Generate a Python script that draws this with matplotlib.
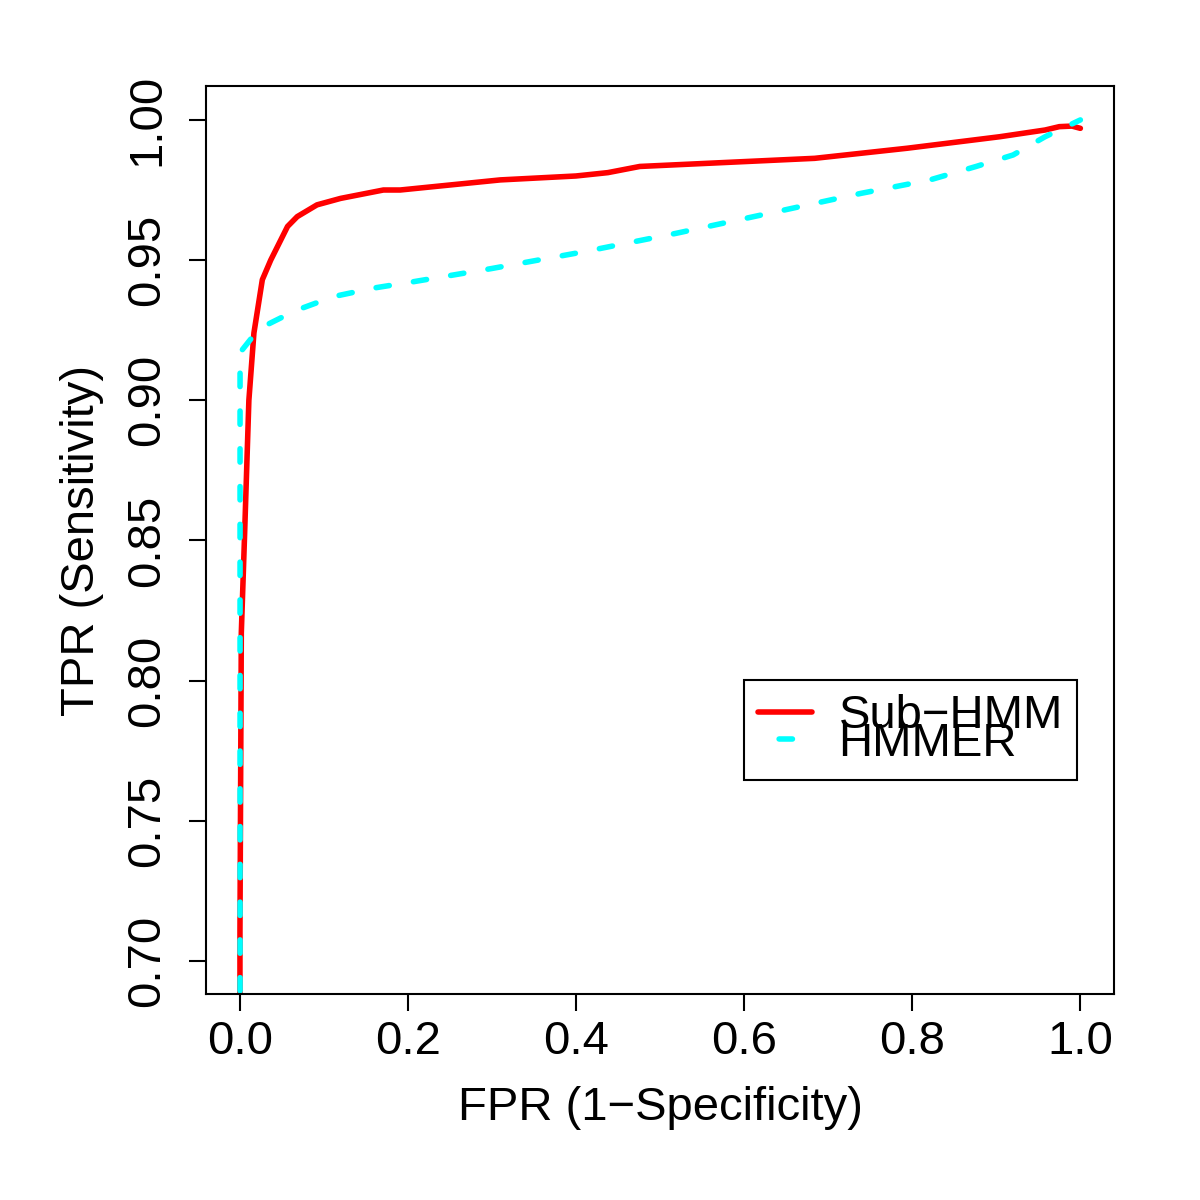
import matplotlib
matplotlib.use("Agg")
import matplotlib.pyplot as plt

# ROC points
sub_fpr = [0.0, 0.0004, 0.002, 0.006, 0.011, 0.017, 0.027, 0.037, 0.057, 0.0685, 0.092,
           0.12, 0.171, 0.191, 0.31, 0.40, 0.438, 0.476, 0.684, 0.794, 0.904, 0.958,
           0.975, 0.99, 1.0]
sub_tpr = [0.0, 0.711, 0.817, 0.853, 0.900, 0.924, 0.943, 0.950, 0.962, 0.9655, 0.9697,
           0.972, 0.975, 0.9750, 0.9786, 0.9800, 0.9812, 0.9834, 0.9863, 0.9899, 0.9940,
           0.9964, 0.9976, 0.9978, 0.9970]

hmm_fpr = [0.0, 0.0005, 0.0005, 0.019, 0.033, 0.0665, 0.112, 0.159, 0.207, 0.30, 0.41,
           0.52, 0.63, 0.739, 0.821, 0.876, 0.920, 0.958, 1.0]
hmm_tpr = [0.0, 0.697, 0.917, 0.924, 0.927, 0.932, 0.937, 0.940, 0.9423, 0.947, 0.953,
           0.9596, 0.9667, 0.9738, 0.9786, 0.9834, 0.9875, 0.9940, 1.0]

plt.rcParams['font.family'] = ['Liberation Sans', 'DejaVu Sans']
plt.rcParams['font.size'] = 34
plt.rcParams['axes.linewidth'] = 1.5

fig = plt.figure(figsize=(12, 12), dpi=100)
ax = fig.add_axes([206/1200, 206/1200, 908/1200, 908/1200])

ax.plot(sub_fpr, sub_tpr, color='red', lw=4.0, solid_capstyle='round',
        solid_joinstyle='round', label='Sub\u2212HMM')
ax.plot(hmm_fpr, hmm_tpr, color='#00FFFF', lw=4.0, dash_capstyle='round',
        linestyle=(3.0, (2.4, 4.4)), label='HMMER')

ax.set_xlim(-0.04, 1.04)
ax.set_ylim(0.6882, 1.0121)
ax.set_xticks([0.0, 0.2, 0.4, 0.6, 0.8, 1.0])
ax.set_xticklabels(['0.0', '0.2', '0.4', '0.6', '0.8', '1.0'])
ax.set_yticks([0.70, 0.75, 0.80, 0.85, 0.90, 0.95, 1.00])
ax.set_yticklabels(['0.70', '0.75', '0.80', '0.85', '0.90', '0.95', '1.00'],
                   rotation=90, va='center')
ax.tick_params(length=12.5, width=1.5)
ax.tick_params(axis='x', pad=6)
ax.tick_params(axis='y', pad=14)
ax.set_xlabel('FPR (1\u2212Specificity)', labelpad=16)
ax.set_ylabel('TPR (Sensitivity)', labelpad=15)

leg = ax.legend(loc='upper left', bbox_to_anchor=((744-206)/908, (994-680)/908),
                fancybox=False, framealpha=1, edgecolor='black', borderaxespad=0,
                handlelength=1.15, handletextpad=0.55, labelspacing=-0.35,
                borderpad=0.3)
leg.get_frame().set_linewidth(1.5)

fig.savefig('out.png', dpi=100)
